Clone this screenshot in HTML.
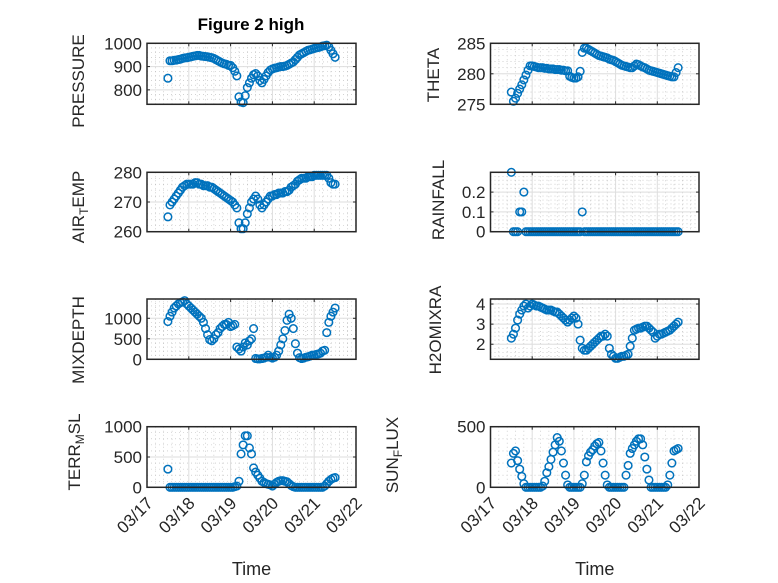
<!DOCTYPE html>
<html><head><meta charset="utf-8"><style>
html,body{margin:0;padding:0;background:#fff;}
svg{display:block;font-family:"Liberation Sans",sans-serif;}
</style></head><body>
<svg id="fig" width="778" height="583" viewBox="0 0 778 583" xmlns="http://www.w3.org/2000/svg">
<rect width="778" height="583" fill="#fff"/>
<text x="251" y="30" font-size="17" font-weight="bold" text-anchor="middle" fill="#000">Figure 2 high</text>
</svg>
<script>
// time in days of March
const times = [17.50,17.55,17.60,17.65,17.70,17.75,17.80,17.85,17.90,17.95,
18.00,18.05,18.10,18.15,18.20,18.25,18.30,18.35,18.40,18.45,
18.50,18.55,18.60,18.65,18.70,18.75,18.80,18.85,18.90,18.95,
19.00,19.05,19.10,19.15,19.20,19.25,19.30,19.35,19.40,19.45,
19.50,19.55,19.60,19.65,19.70,19.75,19.80,19.85,19.90,19.95,
20.00,20.05,20.10,20.15,20.20,20.25,20.30,20.35,20.40,20.45,
20.50,20.55,20.60,20.65,20.70,20.75,20.80,20.85,20.90,20.95,
21.00,21.05,21.10,21.15,21.20,21.25,21.30,21.35,21.40,21.45,21.50];
const pressure = [850,925,925,927,928,930,932,935,937,938,
940,942,944,946,948,948,945,944,943,942,
940,938,935,930,925,920,915,912,910,905,
905,895,880,860,770,748,745,775,810,830,
850,865,870,860,840,830,845,860,875,885,
890,893,895,898,900,900,902,905,910,915,
920,930,940,950,955,960,965,970,972,975,
978,980,982,985,988,990,992,985,970,955,940];
const airTemp = [265,269,270,271,272,273,274,275,275.5,276,
276,276,276,276.5,276.5,276,276,275.5,275.5,275.5,
275,275,274.5,274,273.5,273,272.5,272,271.5,271,
270.5,270,269,268,263,261,261,263,266,268,
270,271,272,271,269,268,269,270,271,272,
272,272.5,272.5,273,273,273,273.5,273.5,274,275,
275.5,276,277,277.5,278,278,278,278.5,278.5,278.5,
279,279,279,279,279,279,279,278,276.5,276,276];
const mixDepth = [920,1050,1150,1250,1300,1350,1380,1400,1430,1350,
1300,1250,1200,1150,1100,1050,1000,900,750,600,
480,450,500,600,650,750,800,850,850,900,
800,820,850,300,250,200,300,400,350,450,
500,750,20,10,10,20,30,50,100,50,
30,50,100,200,350,500,700,950,1100,1000,
750,380,150,40,20,30,50,60,80,100,
100,120,130,150,200,220,650,900,1050,1150,1250];
const terrMsl = [300,0,0,0,0,0,0,0,0,0,
0,0,0,0,0,0,0,0,0,0,
0,0,0,0,0,0,0,0,0,0,
0,0,10,20,100,550,700,850,850,650,
550,320,250,200,150,100,80,60,50,40,
20,50,80,100,110,110,100,90,60,30,
10,0,0,0,0,0,0,0,0,0,
0,0,0,0,0,20,60,100,130,150,160];
const theta = [277,275.5,276,276.8,277.5,278.2,279,279.8,280.6,281.3,
281.3,281.2,281.1,281,281,281,280.9,280.9,280.8,280.8,
280.8,280.7,280.7,280.7,280.6,280.6,280.5,280.5,279.6,279.4,
279.3,279.3,279.5,280.4,283.5,284.2,284.2,284,283.8,283.6,
283.4,283.2,283,282.9,282.8,282.7,282.6,282.4,282.3,282.2,
282,281.8,281.6,281.4,281.3,281.2,281.1,281,281,281.3,
281.6,281.5,281.3,281.1,281,280.8,280.6,280.5,280.4,280.3,
280.2,280.1,280,279.9,279.8,279.7,279.6,279.5,279.5,280.2,281];
const rainfall = [0.3,0,0,0,0.1,0.1,0.2,0,0,0,
0,0,0,0,0,0,0,0,0,0,
0,0,0,0,0,0,0,0,0,0,
0,0,0,0,0.1,0,0,0,0,0,
0,0,0,0,0,0,0,0,0,0,
0,0,0,0,0,0,0,0,0,0,
0,0,0,0,0,0,0,0,0,0,
0,0,0,0,0,0,0,0,0,0,0];
const h2oMix = [2.3,2.5,2.8,3.2,3.5,3.7,3.9,4.0,3.8,3.9,
4.0,3.95,3.9,3.9,3.85,3.8,3.75,3.7,3.7,3.7,
3.65,3.6,3.6,3.5,3.4,3.3,3.2,3.1,3.2,3.3,
3.4,3.3,3.0,2.2,1.8,1.7,1.7,1.8,1.9,2.0,
2.1,2.2,2.3,2.4,2.4,2.5,2.4,1.8,1.5,1.4,
1.3,1.3,1.35,1.4,1.4,1.45,1.5,1.9,2.3,2.7,
2.75,2.8,2.8,2.85,2.9,2.9,2.8,2.7,2.6,2.3,
2.4,2.5,2.5,2.55,2.6,2.65,2.7,2.8,2.9,3.0,3.1];
const sunFlux = [200,280,300,220,150,90,30,0,0,0,
0,0,0,0,0,10,50,120,170,230,
290,350,410,380,300,200,100,20,0,0,
0,0,0,0,30,100,210,260,290,310,
340,360,370,300,200,100,20,0,0,0,
0,0,0,0,0,100,180,280,320,350,
380,400,400,350,250,150,60,0,0,0,
0,0,0,0,0,20,100,200,300,310,320];
const xTickDays = [17,18,19,20,21,22];
const xTickLabels = ["03/17","03/18","03/19","03/20","03/21","03/22"];

const NS = "http://www.w3.org/2000/svg";
const svg = document.getElementById('fig');
function mk(tag, attrs, parent){
  const e = document.createElementNS(NS, tag);
  for (const k in attrs) e.setAttribute(k, attrs[k]);
  (parent||svg).appendChild(e);
  return e;
}
const COLS = [[147,356],[490.5,699]];
const ROWS = [[43.3,104.3],[172.3,231.7],[299,359.3],[426.7,487.3]];

const panels = [
 {id:'pressure', col:0,row:0, data:pressure, ylim:[738,1000], yt:[800,900,1000], ylab:['PRESSURE'], lx:84, ly:81},
 {id:'air-temp', col:0,row:1, data:airTemp, ylim:[260,280], yt:[260,270,280], ylab:['AIR','T','EMP'], lx:84, ly:207},
 {id:'mixdepth', col:0,row:2, data:mixDepth, ylim:[0,1470], yt:[0,500,1000], ylab:['MIXDEPTH'], lx:84, ly:340},
 {id:'terr-msl', col:0,row:3, data:terrMsl, ylim:[0,1000], yt:[0,500,1000], ylab:['TERR','M','SL'], lx:80, ly:452},
 {id:'theta', col:1,row:0, data:theta, ylim:[275,285], yt:[275,280,285], ylab:['THETA'], lx:439, ly:75},
 {id:'rainfall', col:1,row:1, data:rainfall, ylim:[0,0.3], yt:[0,0.1,0.2], ylab:['RAINFALL'], lx:444, ly:200},
 {id:'h2omixra', col:1,row:2, data:h2oMix, ylim:[1.25,4.25], yt:[2,3,4], ylab:['H2OMIXRA'], lx:441, ly:330},
 {id:'sun-flux', col:1,row:3, data:sunFlux, ylim:[0,500], yt:[0,500], ylab:['SUN','F','LUX'], lx:398, ly:455}
];

panels.forEach(p=>{
  const [x0,x1] = COLS[p.col], [y0,y1] = ROWS[p.row];
  const sx = d => x0 + (d-17)/(22-17)*(x1-x0);
  const sy = v => y1 - (v-p.ylim[0])/(p.ylim[1]-p.ylim[0])*(y1-y0);
  const g = mk('g',{});
  
  
  mk('rect',{x:x0,y:y0,width:x1-x0,height:y1-y0,fill:'#fff'},g);
  for (let d=17; d<22.001; d+=0.2){
    const x = sx(d);
    mk('line',{x1:x,y1:y0,x2:x,y2:y1,stroke:'#b8b8b8','stroke-width':0.6,'stroke-dasharray':'1 3'},g);
  }
  const ystep = p.yt.length>1 ? (p.yt[1]-p.yt[0])/5 : 20;
  for (let v=p.yt[0]-ystep*50; v<=p.ylim[1]+1e-9; v+=ystep){
    if (v < p.ylim[0]-1e-9) continue;
    const y = sy(v);
    mk('line',{x1:x0,y1:y,x2:x1,y2:y,stroke:'#b8b8b8','stroke-width':0.6,'stroke-dasharray':'1 3'},g);
  }
  xTickDays.forEach(d=>{
    const x = sx(d);
    mk('line',{x1:x,y1:y0,x2:x,y2:y1,stroke:'#dedede','stroke-width':1},g);
    mk('line',{x1:x,y1:y1,x2:x,y2:y1-3,stroke:'#262626','stroke-width':1},g);
    mk('line',{x1:x,y1:y0,x2:x,y2:y0+3,stroke:'#262626','stroke-width':1},g);
  });
  p.yt.forEach(v=>{
    const y = sy(v);
    mk('line',{x1:x0,y1:y,x2:x1,y2:y,stroke:'#dedede','stroke-width':1},g);
    mk('line',{x1:x0,y1:y,x2:x0+3,y2:y,stroke:'#262626','stroke-width':1},g);
    mk('line',{x1:x1,y1:y,x2:x1-3,y2:y,stroke:'#262626','stroke-width':1},g);
    const t = mk('text',{x:x0-5,y:y+6,'font-size':17,'text-anchor':'end',fill:'#262626'},g);
    t.textContent = String(v);
    
    
  });
  p.data.forEach((v,i)=>{
    const c = mk('circle',{cx:sx(times[i]),cy:sy(v),r:3.8,fill:'none',stroke:'#0072BD','stroke-width':1.5},g);
    
    
  });
  mk('rect',{x:x0,y:y0,width:x1-x0,height:y1-y0,fill:'none',stroke:'#262626','stroke-width':1.5},g);
  const lab = mk('text',{x:0,y:0,'font-size':17,'text-anchor':'middle',fill:'#262626',transform:`translate(${p.lx},${p.ly}) rotate(-90)`},g);
  
  
  p.ylab.forEach((s,k)=>{
    const ts = mk('tspan',{},lab);
    if (k===1){ ts.setAttribute('font-size','12'); ts.setAttribute('dy','4'); }
    if (k===2){ ts.setAttribute('dy','-4'); }
    ts.textContent = s;
  });
  if (p.row===3){
    xTickDays.forEach((d,k)=>{
      const x = sx(d)+7, y = y1+17;
      const t = mk('text',{x:0,y:0,'font-size':17,'text-anchor':'end',fill:'#262626',transform:`translate(${x},${y}) rotate(-45)`},g);
      t.textContent = xTickLabels[k];
      
      
    });
    const xt = mk('text',{x:(x0+x1)/2,y:575,'font-size':18,'text-anchor':'middle',fill:'#262626'},g);
    xt.textContent = 'Time';
    
    
  }
});
</script>
</body></html>
